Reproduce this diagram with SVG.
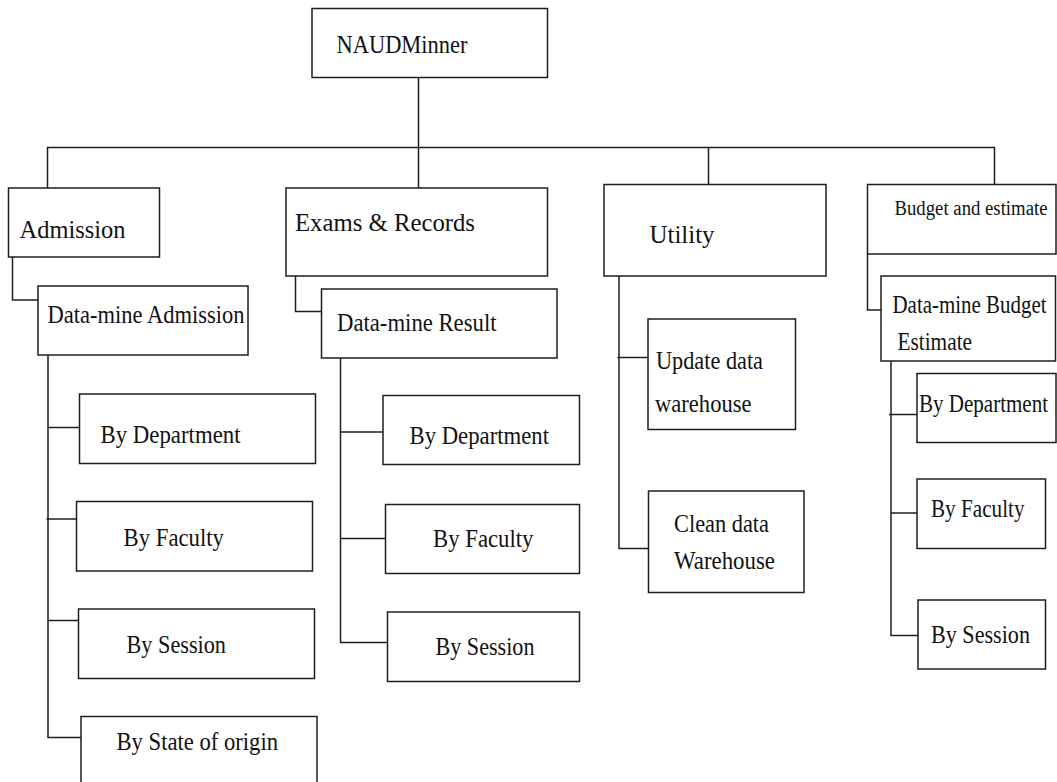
<svg xmlns="http://www.w3.org/2000/svg" width="1057" height="782" viewBox="0 0 1057 782">
  <style>
    .box { fill: #ffffff; stroke: #1e1e1e; stroke-width: 1.5; }
    .wire { fill: none; stroke: #1e1e1e; stroke-width: 1.5; }
    .lbl { font-family: 'Liberation Serif', 'DejaVu Serif', 'Times New Roman', serif; font-size: 25px; fill: #111111; }
    .small { font-size: 20px; }
  </style>

  <rect x="0" y="0" width="1057" height="782" fill="#ffffff"/>

  <!-- connectors -->
  <g id="connectors">
    <!-- root trunk and main bus -->
    <path class="wire" d="M418.5 77 V193"/>
    <path class="wire" d="M47.5 188 V147.5 H994.5 V188"/>
    <path class="wire" d="M708.5 147.5 V194"/>
    <!-- Admission branch -->
    <path class="wire" d="M12.5 257 V300 H38"/>
    <path class="wire" d="M48 355 V737.5 H90"/>
    <path class="wire" d="M48 427.5 H79.5"/>
    <path class="wire" d="M46.5 519 H79"/>
    <path class="wire" d="M48 620.5 H80.5"/>
    <!-- Exams & Records branch -->
    <path class="wire" d="M295.5 276 V311.5 H321.5"/>
    <path class="wire" d="M340.5 358 V642.5 H387.5"/>
    <path class="wire" d="M340.5 432 H383"/>
    <path class="wire" d="M340.5 538.5 H385.5"/>
    <!-- Utility branch -->
    <path class="wire" d="M619 276 V548.5 H648.5"/>
    <path class="wire" d="M617.5 357.5 H648"/>
    <!-- Budget branch -->
    <path class="wire" d="M867.5 254 V310 H881"/>
    <path class="wire" d="M891 361 V635.5 H918"/>
    <path class="wire" d="M889 414.5 H917"/>
    <path class="wire" d="M891 513 H919"/>
  </g>

  <!-- root -->
  <g id="naudminner">
    <rect class="box" x="312" y="8.5" width="235.5" height="69"/>
    <text class="lbl" x="336.5" y="53" textLength="131" lengthAdjust="spacingAndGlyphs">NAUDMinner</text>
  </g>

  <!-- top-level modules -->
  <g id="admission">
    <rect class="box" x="8.5" y="188" width="151" height="69"/>
    <text class="lbl" x="19.5" y="238" font-size="26" textLength="106" lengthAdjust="spacingAndGlyphs">Admission</text>
  </g>
  <g id="exams-records">
    <rect class="box" x="286" y="188" width="261.5" height="88"/>
    <text class="lbl" x="295" y="230.5" font-size="27" textLength="180" lengthAdjust="spacingAndGlyphs">Exams &amp; Records</text>
  </g>
  <g id="utility">
    <rect class="box" x="604" y="184.5" width="222" height="91.5"/>
    <text class="lbl" x="649.5" y="242.5" font-size="26" textLength="65" lengthAdjust="spacingAndGlyphs">Utility</text>
  </g>
  <g id="budget-estimate">
    <rect class="box" x="867.5" y="184.5" width="188.5" height="69.5"/>
    <text class="lbl small" x="894.5" y="215" textLength="153" lengthAdjust="spacingAndGlyphs">Budget and estimate</text>
  </g>

  <!-- data-mine nodes -->
  <g id="datamine-admission">
    <rect class="box" x="38" y="286" width="210" height="69"/>
    <text class="lbl" x="47.5" y="322.5" textLength="197" lengthAdjust="spacingAndGlyphs">Data-mine Admission</text>
  </g>
  <g id="datamine-result">
    <rect class="box" x="321.5" y="289" width="235.5" height="69"/>
    <text class="lbl" x="337" y="330.5" textLength="159.5" lengthAdjust="spacingAndGlyphs">Data-mine Result</text>
  </g>
  <g id="datamine-budget">
    <rect class="box" x="881" y="276" width="174.5" height="85"/>
    <text class="lbl" x="892.5" y="312.5" textLength="154" lengthAdjust="spacingAndGlyphs">Data-mine Budget</text>
    <text class="lbl" x="897.5" y="350" textLength="74.5" lengthAdjust="spacingAndGlyphs">Estimate</text>
  </g>

  <!-- Admission leaves -->
  <g id="adm-by-department">
    <rect class="box" x="79.5" y="394" width="236" height="69.5"/>
    <text class="lbl" x="100.5" y="442.5" textLength="140" lengthAdjust="spacingAndGlyphs">By Department</text>
  </g>
  <g id="adm-by-faculty">
    <rect class="box" x="76.5" y="501.5" width="236" height="69.5"/>
    <text class="lbl" x="123.5" y="545.5" textLength="100.5" lengthAdjust="spacingAndGlyphs">By Faculty</text>
  </g>
  <g id="adm-by-session">
    <rect class="box" x="78.5" y="609" width="236" height="69.5"/>
    <text class="lbl" x="126.5" y="653" textLength="99.5" lengthAdjust="spacingAndGlyphs">By Session</text>
  </g>
  <g id="adm-by-state">
    <rect class="box" x="81" y="716.5" width="236" height="90"/>
    <text class="lbl" x="116.5" y="750" textLength="161.5" lengthAdjust="spacingAndGlyphs">By State of origin</text>
  </g>

  <!-- Exams & Records leaves -->
  <g id="exm-by-department">
    <rect class="box" x="383" y="395.5" width="196.5" height="69"/>
    <text class="lbl" x="409.5" y="444" textLength="139.5" lengthAdjust="spacingAndGlyphs">By Department</text>
  </g>
  <g id="exm-by-faculty">
    <rect class="box" x="385.5" y="504.5" width="194" height="69"/>
    <text class="lbl" x="433" y="546.5" textLength="100.5" lengthAdjust="spacingAndGlyphs">By Faculty</text>
  </g>
  <g id="exm-by-session">
    <rect class="box" x="387.5" y="612" width="192" height="69.5"/>
    <text class="lbl" x="435.5" y="655" textLength="99" lengthAdjust="spacingAndGlyphs">By Session</text>
  </g>

  <!-- Utility leaves -->
  <g id="update-warehouse">
    <rect class="box" x="648" y="319" width="147.5" height="110.5"/>
    <text class="lbl" x="656" y="369" textLength="107" lengthAdjust="spacingAndGlyphs">Update data</text>
    <text class="lbl" x="655" y="411.5" textLength="96.5" lengthAdjust="spacingAndGlyphs">warehouse</text>
  </g>
  <g id="clean-warehouse">
    <rect class="box" x="648.5" y="491" width="155.5" height="101.5"/>
    <text class="lbl" x="674" y="531.5" textLength="95" lengthAdjust="spacingAndGlyphs">Clean data</text>
    <text class="lbl" x="674" y="569" textLength="101" lengthAdjust="spacingAndGlyphs">Warehouse</text>
  </g>

  <!-- Budget leaves -->
  <g id="bud-by-department">
    <rect class="box" x="917" y="373.5" width="139" height="69"/>
    <text class="lbl" x="919" y="411.5" textLength="129" lengthAdjust="spacingAndGlyphs">By Department</text>
  </g>
  <g id="bud-by-faculty">
    <rect class="box" x="917" y="479" width="128.5" height="69.5"/>
    <text class="lbl" x="931" y="517" textLength="93.5" lengthAdjust="spacingAndGlyphs">By Faculty</text>
  </g>
  <g id="bud-by-session">
    <rect class="box" x="918" y="600" width="127.5" height="69"/>
    <text class="lbl" x="931" y="643" textLength="99" lengthAdjust="spacingAndGlyphs">By Session</text>
  </g>
</svg>
